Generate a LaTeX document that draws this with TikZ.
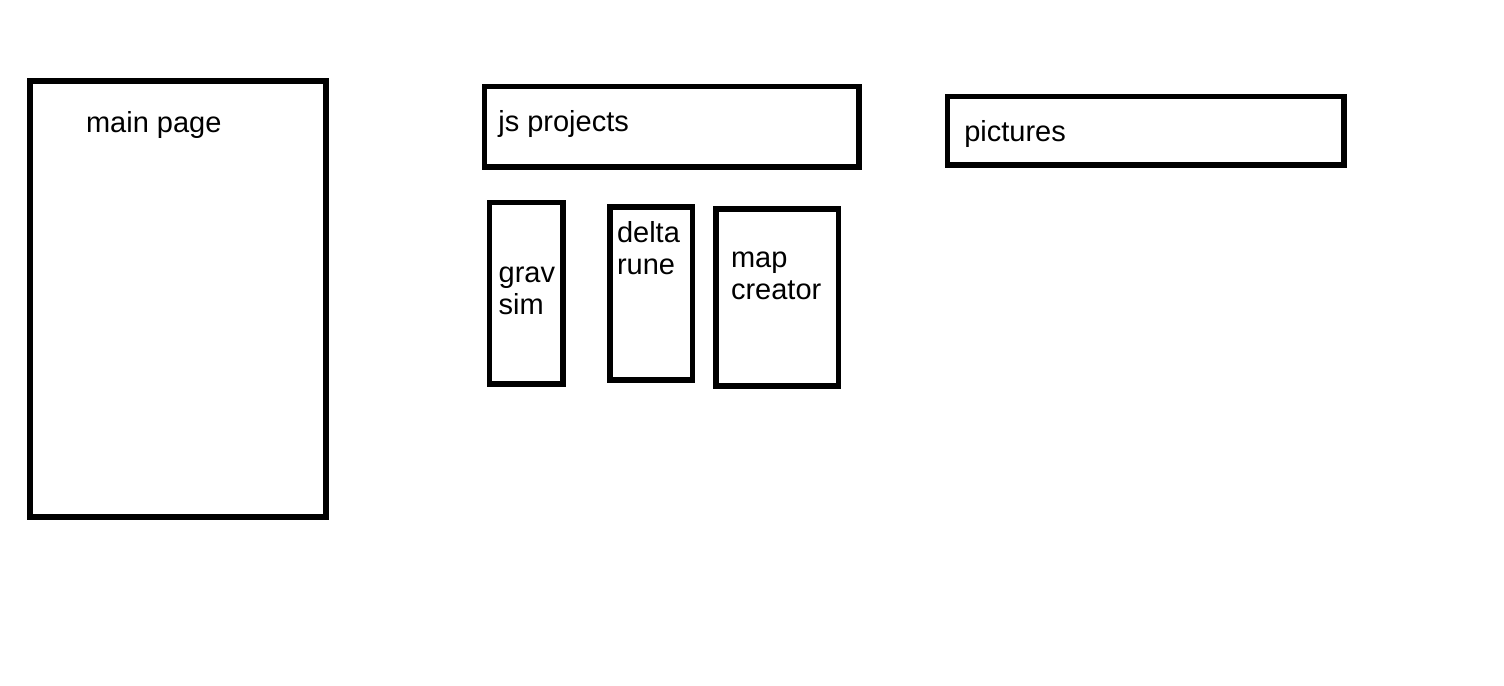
\documentclass[tikz,border=0pt]{standalone}
\usepackage{fontspec}
\setmainfont{Liberation Sans}

\begin{document}
\begin{tikzpicture}[x=0.02cm,y=-0.02cm]
    \tikzset{
        page/.style={draw, line width=3pt},
        lbl/.style={anchor=base west, inner sep=0pt, align=left, font=\fontsize{16.5}{18.2}\selectfont}
    }
    \useasboundingbox (0,0) rectangle (1504,686);
    % boxes
    \foreach \xa/\ya/\xb/\yb in {30/81/326/517, 484.5/86.5/859/167, 947.5/96.5/1344/165, 489.5/202.5/563/384, 610/207/692.5/380, 716/209/838.5/386} {
        \draw[page] (\xa,\ya) rectangle (\xb,\yb);
    }
    % labels (base = last line)
    \node[lbl] (mainpage) at (85.7,132.5) {main page};
    \node[lbl] (js) at (498,131.5) {js projects};
    \node[lbl] (pics) at (964,141) {pictures};
    \node[lbl] (grav) at (498.3,314.3) {grav\\sim};
    \node[lbl] (delta) at (616.7,274.3) {delta\\rune};
    \node[lbl] (map) at (730.7,299) {map\\creator};
\end{tikzpicture}
\end{document}
